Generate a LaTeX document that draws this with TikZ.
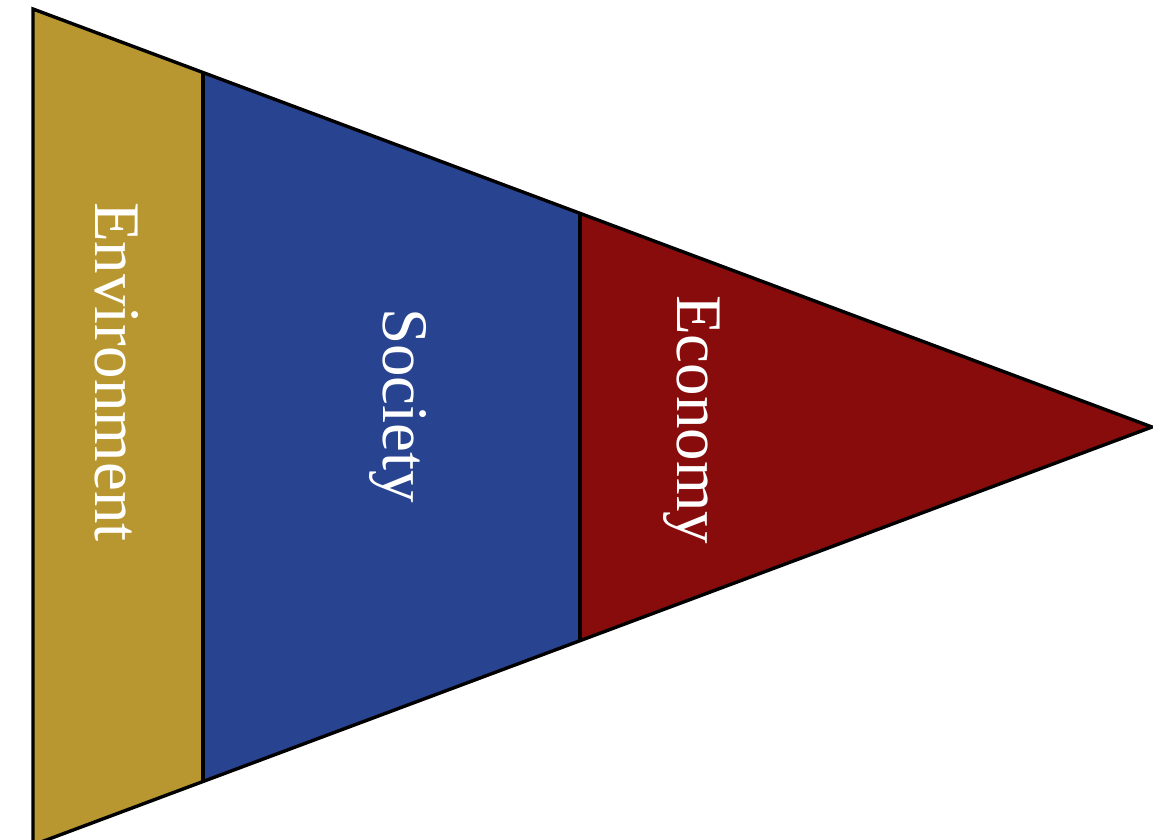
\documentclass[tikz,border=0pt]{standalone}
\usepackage{fontspec}
\setmainfont{Liberation Serif}
\usetikzlibrary{calc}
\definecolor{envcol}{RGB}{185,151,48}
\definecolor{soccol}{RGB}{40,68,145}
\definecolor{ecocol}{RGB}{136,12,12}
\tikzset{
  band/.style={draw=black, line width=3.4pt, line join=miter},
  label/.style={rotate=-90, anchor=base west, inner sep=0pt, text=white,
    font=\fontsize{65pt}{65pt}\selectfont}
}
\begin{document}
\begin{tikzpicture}[x=1pt,y=-1pt]
\useasboundingbox (0,0) rectangle (1153,839);
\clip (0,0) rectangle (1153,839);
\coordinate (T) at (33,9);
\coordinate (B) at (33,845);
\coordinate (A) at (1152,427);
\coordinate (T1) at ($(T)!0.1519!(A)$);
\coordinate (B1) at ($(B)!0.1519!(A)$);
\coordinate (T2) at ($(T)!0.4888!(A)$);
\coordinate (B2) at ($(B)!0.4888!(A)$);
\fill[envcol] (T) -- (T1) -- (B1) -- (B) -- cycle;
\fill[soccol] (T1) -- (T2) -- (B2) -- (B1) -- cycle;
\fill[ecocol] (T2) -- (A) -- (B2) -- cycle;
\draw[band] (T1) -- (B1);
\draw[band] (T2) -- (B2);
\draw[band] (T) -- (A) -- (B) -- cycle;
\node[label] (env) at (95,202) {Environment};
\node[label] (soc) at (383,308) {Society};
\node[label] (eco) at (677,295) {Economy};
\end{tikzpicture}
\end{document}
